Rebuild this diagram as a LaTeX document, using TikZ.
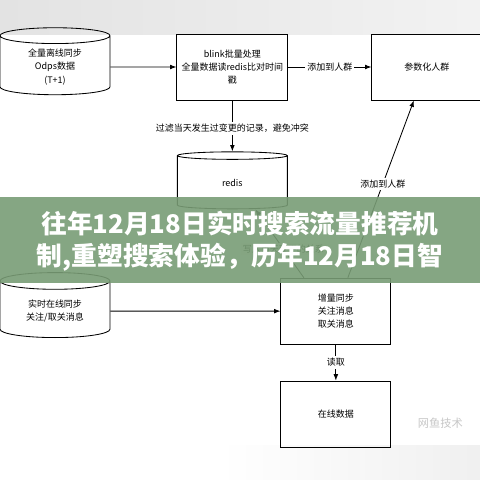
\documentclass[tikz,border=0pt]{standalone}
\usepackage{fontspec}
\setmainfont{Noto Sans CJK SC}
\usetikzlibrary{arrows.meta, shapes.geometric, positioning, calc}

\definecolor{bannergreen}{RGB}{120,156,117}

\begin{document}
\begin{tikzpicture}[
    node distance=1.2cm and 1.8cm,
    box/.style={rectangle, draw, semithick, minimum width=2.75cm, minimum height=1.65cm, align=center, font=\fontsize{6.4}{9.5}\selectfont},
    store/.style={cylinder, shape border rotate=90, draw, semithick, aspect=0.25, minimum width=2.75cm, minimum height=1.675cm, align=center, font=\fontsize{6.4}{9.5}\selectfont},
    arrow/.style={-{Latex[length=1.6mm, width=1.2mm]}, semithick},
    edgetext/.style={fill=white, inner sep=1.5pt, font=\fontsize{6.4}{8}\selectfont}
]
\useasboundingbox (0,0) rectangle (12,-12);

% gray bands at top and bottom
\shade[left color=gray!22, right color=gray!10] (0,0) rectangle (12,-0.85);
\shade[left color=white, right color=gray!12] (5.5,-11.125) rectangle (12,-12);

% Row 1: offline sync -> blink -> crowd
\node[store] (offline) at (1.375,-1.675) {全量离线同步\\Odps数据\\(T+1)};

\node[box, right=1.65cm of offline] (blink) {blink批量处理\\全量数据读redis比对时间\\戳};

\node[box, right=2.08cm of blink] (crowd) {参数化人群};

% redis below blink
\node[store, minimum height=1.425cm, below=1.275cm of blink] (redis) {redis};

% Row 2: realtime sync -> incremental sync -> online data
\node[store, minimum height=1.625cm, below=4.425cm of offline] (realtime) {实时在线同步\\关注/取关消息};

\node[box, right=4.25cm of realtime] (incr) {增量同步\\关注消息\\取关消息};

\node[box, below=0.9cm of incr] (online) {在线数据};

% Arrows - Row 1
\draw[arrow] (offline) -- (blink);
\draw[arrow] (blink) -- (crowd) node[midway, edgetext] {添加到人群};
\draw[arrow] (blink) -- (redis) node[pos=0.55, edgetext] {过滤当天发生过变更的记录，避免冲突};

% Arrows - Row 2
\draw[arrow] (realtime) -- (incr);
\draw[arrow] (incr) -- (online) node[midway, edgetext] {读取};

% diagonal arrows from incr
\draw[arrow] ([xshift=0.3cm]incr.north) -- ([xshift=-0.325cm]crowd.south) node[pos=0.53, edgetext] {添加到人群};
\draw[arrow] ([xshift=-0.8cm]incr.north) -- ([xshift=0.575cm]redis.south) node[pos=0.42, edgetext] {写入当天变更的关系};

% watermark
\node[text=gray!45, font=\fontsize{8}{9}\selectfont] (mark) at (11.01,-10.575) {网鱼技术};

% title banner
\fill[bannergreen, opacity=0.9] (0,-4.925) rectangle (12,-7.075);
\node[text=white, font=\fontsize{18.3}{22.8}\selectfont\bfseries, align=center] (title) at (6,-6.025) {往年12月18日实时搜索流量推荐机\\制,重塑搜索体验，历年12月18日智};

\end{tikzpicture}
\end{document}
